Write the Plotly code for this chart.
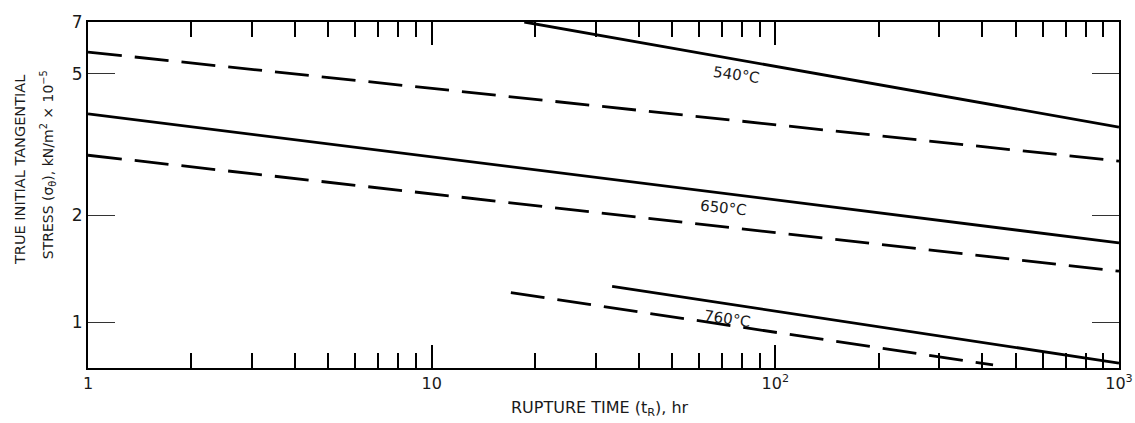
import math
import plotly.graph_objects as go

# ---- data ----
t_540_solid = [18.6, 1000]
s_540_solid = [7.0, 3.54]
t_540_dash = [1, 1000]
s_540_dash = [5.76, 2.84]
t_650_solid = [1, 1000]
s_650_solid = [3.86, 1.67]
t_650_dash = [1, 1000]
s_650_dash = [2.95, 1.39]
t_760_solid = [33.5, 1000]
s_760_solid = [1.26, 0.766]
t_760_dash = [17.0, 430]
s_760_dash = [1.21, 0.757]

x_tickvals = [1, 10, 100, 1000]
x_ticktext = ["1", "10", "10<sup>2</sup>", "10<sup>3</sup>"]
x_minor = [m * d for d in (1, 10, 100) for m in range(2, 10)]
y_tickvals = [1, 2, 5, 7]
y_ticktext = ["1", "2", "5", "7"]

labels = ["540°C", "650°C", "760°C"]
label_t = [77.3, 70.5, 72.8]
label_s = [4.95, 2.09, 1.02]
label_angle = [8, 6, 8]

FONT = "DejaVu Sans, Liberation Sans, Arial, sans-serif"
DASH = "34px,13px"
TXT = "#1a1a1a"

fig = go.Figure()
series = [
    (t_540_solid, s_540_solid, "solid"),
    (t_540_dash, s_540_dash, DASH),
    (t_650_solid, s_650_solid, "solid"),
    (t_650_dash, s_650_dash, DASH),
    (t_760_solid, s_760_solid, "solid"),
    (t_760_dash, s_760_dash, DASH),
]
for tx, sy, dash in series:
    fig.add_trace(go.Scatter(x=tx, y=sy, mode="lines",
                             line=dict(color="black", width=2.8, dash=dash),
                             showlegend=False, hoverinfo="skip"))

for txt, t, s, a in zip(labels, label_t, label_s, label_angle):
    fig.add_annotation(x=math.log10(t), y=math.log10(s), xref="x", yref="y",
                       text=txt, showarrow=False, textangle=a,
                       xanchor="center", yanchor="middle",
                       font=dict(family=FONT, size=15, color=TXT))

# y axis title, two lines
fig.add_annotation(x=-0.066, y=0.572, xref="paper", yref="paper",
                   xanchor="center", yanchor="middle",
                   text="TRUE INITIAL TANGENTIAL", textangle=-90, showarrow=False,
                   font=dict(family=FONT, size=14.5, color=TXT))
fig.add_annotation(x=-0.0385, y=0.587, xref="paper", yref="paper",
                   xanchor="center", yanchor="middle",
                   text="STRESS (σ<sub>θ</sub>), kN/m<sup>2</sup> × 10<sup>−5</sup>",
                   textangle=-90, showarrow=False,
                   font=dict(family=FONT, size=14, color=TXT))
# x axis title
fig.add_annotation(x=0.497, y=-0.116, xref="paper", yref="paper",
                   xanchor="center", yanchor="middle",
                   text="RUPTURE TIME (t<sub>R</sub>), hr", showarrow=False,
                   font=dict(family=FONT, size=16, color=TXT))

fig.update_layout(
    width=1135, height=423,
    margin=dict(l=88, r=16, t=22, b=55, autoexpand=False),
    plot_bgcolor="white", paper_bgcolor="white",
    font=dict(family=FONT, size=14, color=TXT),
)
fig.update_xaxes(type="log", range=[0, 3], tickvals=x_tickvals, ticktext=x_ticktext,
                 automargin=False,
                 ticks="inside", ticklen=23, tickwidth=1.5, tickcolor="black",
                 showline=True, linecolor="black", linewidth=2, mirror="allticks",
                 showgrid=False, zeroline=False,
                 minor=dict(tickvals=x_minor, ticks="inside", ticklen=15,
                            tickwidth=1.5, tickcolor="black", showgrid=False),
                 tickfont=dict(family=FONT, size=16, color=TXT))
fig.update_yaxes(type="log", range=[math.log10(0.742), math.log10(7)],
                 tickvals=y_tickvals, ticktext=y_ticktext, automargin=False,
                 ticks="inside", ticklen=27, tickwidth=1.2, tickcolor="#333",
                 showline=True, linecolor="black", linewidth=2, mirror="allticks",
                 showgrid=False, zeroline=False,
                 tickfont=dict(family=FONT, size=17, color=TXT))

fig.write_html("out.html")
